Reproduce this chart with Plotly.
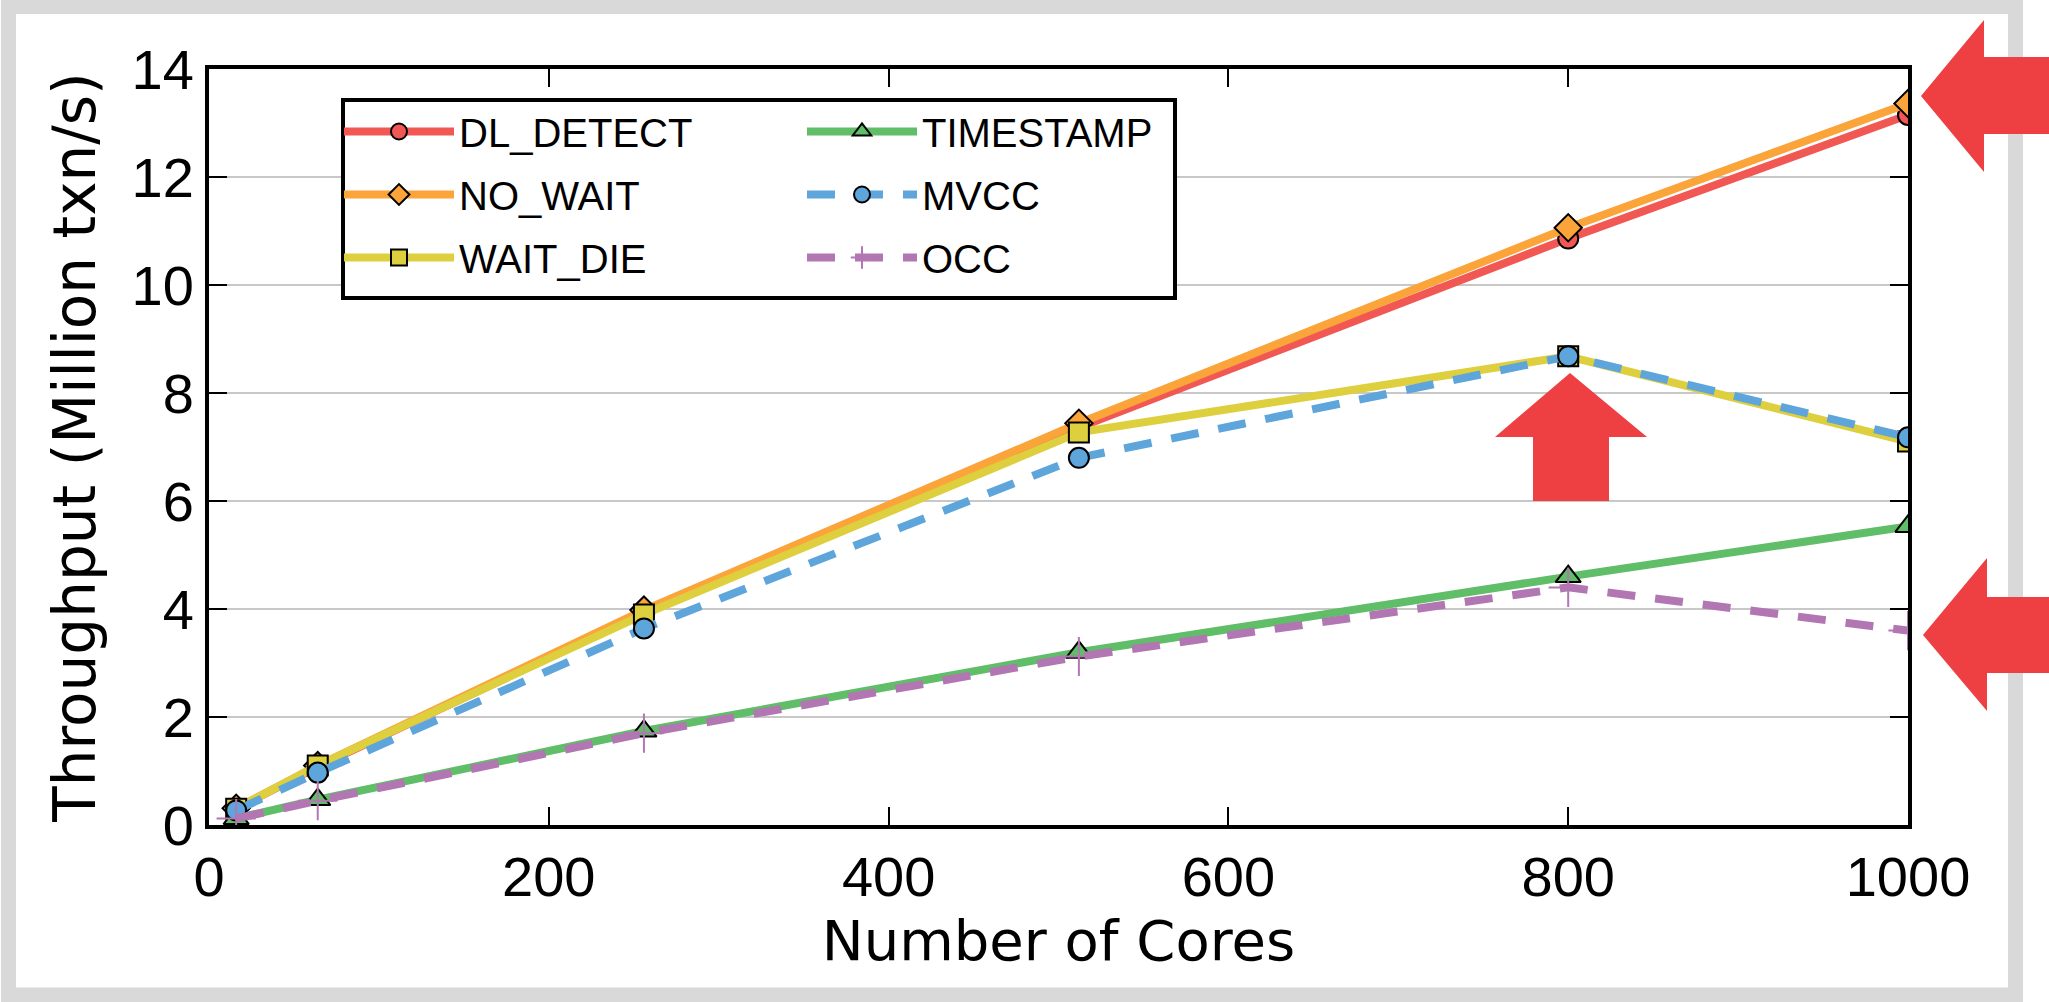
import plotly.graph_objects as go

# ---------------- data ----------------
cores = [16, 64, 256, 512, 800, 1000]
dl_detect = [0.30, 1.08, 3.93, 7.36, 10.86, 13.15]
no_wait = [0.31, 1.10, 3.98, 7.44, 11.06, 13.36]
wait_die = [0.30, 1.10, 3.90, 7.27, 8.68, 7.10]
timestamp = [0.12, 0.47, 1.74, 3.20, 4.60, 5.53]
mvcc = [0.27, 0.97, 3.64, 6.80, 8.68, 7.18]
occ = [0.12, 0.45, 1.70, 3.12, 4.40, 3.60]

x_ticks = [0, 200, 400, 600, 800, 1000]
y_ticks = [0, 2, 4, 6, 8, 10, 12, 14]

series_names = ["DL_DETECT", "NO_WAIT", "WAIT_DIE", "TIMESTAMP", "MVCC", "OCC"]

# ---------------- layout geometry (pixels) ----------------
W, H = 2049, 1002
PL, PR, PT, PB = 209, 1908, 69, 825


def px(x):
    return (x - PL) / (PR - PL)


def py(y):
    return (PB - y) / (PB - PT)


RED = "#F15854"
ORANGE = "#FAA43A"
YELLOW = "#DECF3F"
GREEN = "#60BD68"
BLUE = "#5DA5DA"
PURPLE = "#B276B2"
ARROW = "#EE3F43"

LW = 8
DASH = "28px,20px"

fig = go.Figure()

styles = [
    (dl_detect, RED, "circle", 20, "solid", "legend"),
    (no_wait, ORANGE, "diamond", 21, "solid", "legend"),
    (wait_die, YELLOW, "square", 20, "solid", "legend"),
    (timestamp, GREEN, "triangle-up", 22, "solid", "legend2"),
    (mvcc, BLUE, "circle", 20, DASH, "legend2"),
    (occ, PURPLE, "cross-thin", 28, DASH, "legend2"),
]

for name, (vals, col, sym, size, dash, leg) in zip(series_names, styles):
    if sym == "cross-thin":
        marker = dict(symbol=sym, size=size, color=col, line=dict(color=col, width=2))
    else:
        marker = dict(symbol=sym, size=size, color=col, line=dict(color="black", width=2))
    fig.add_trace(go.Scatter(
        x=cores, y=vals, name=name, mode="lines+markers",
        line=dict(color=col, width=LW, dash=dash),
        marker=marker, legend=leg, legendgroup=name,
    ))

shapes = []
# grey outer frame
shapes.append(dict(type="rect", xref="paper", yref="paper",
                   x0=px(8.5), x1=px(2015.5), y0=py(995), y1=py(6.5),
                   line=dict(color="#D9D9D9", width=15), fillcolor="rgba(0,0,0,0)", layer="below"))
# legend box
shapes.append(dict(type="rect", xref="paper", yref="paper",
                   x0=px(343), x1=px(1175), y0=py(298), y1=py(100),
                   line=dict(color="black", width=4), fillcolor="white", layer="above"))


def poly(points):
    d = "M " + " L ".join(f"{px(a):.5f},{py(b):.5f}" for a, b in points) + " Z"
    return dict(type="path", xref="paper", yref="paper", path=d,
                fillcolor=ARROW, line=dict(width=0), layer="above")


# top-right left-pointing arrow
shapes.append(poly([(1921, 96), (1984, 20), (1984, 57), (2049, 57), (2049, 134), (1984, 134), (1984, 172)]))
# lower-right left-pointing arrow
shapes.append(poly([(1923, 635), (1987, 558), (1987, 597), (2049, 597), (2049, 673), (1987, 673), (1987, 711)]))
# upward arrow inside plot
shapes.append(poly([(1570, 373), (1647, 437), (1609, 437), (1609, 501), (1533, 501), (1533, 437), (1495, 437)]))

tick_font = dict(family="Liberation Sans, Arial, sans-serif", size=56, color="black")
xtitle_font = dict(family="DejaVu Sans, sans-serif", size=56, color="black")
ytitle_font = dict(family="DejaVu Sans, sans-serif", size=58, color="black")
legend_font = dict(family="Liberation Sans, Arial, sans-serif", size=40, color="black")

fig.update_layout(
    width=W, height=H,
    margin=dict(l=PL, r=W - PR, t=PT, b=H - PB, pad=0, autoexpand=False),
    paper_bgcolor="white", plot_bgcolor="white",
    shapes=shapes,
    showlegend=True,
    legend=dict(x=px(339), y=py(99), xanchor="left", yanchor="top",
                bgcolor="rgba(0,0,0,0)", borderwidth=0, font=legend_font,
                itemwidth=110, tracegroupgap=8, orientation="v"),
    legend2=dict(x=px(802), y=py(99), xanchor="left", yanchor="top",
                 bgcolor="rgba(0,0,0,0)", borderwidth=0, font=legend_font,
                 itemwidth=110, tracegroupgap=8, orientation="v"),
    xaxis=dict(range=[0, 1000], tickvals=x_ticks, ticktext=[str(v) for v in x_ticks],
               showgrid=False, zeroline=False, automargin=False,
               showline=True, linecolor="black", linewidth=4, mirror="ticks",
               ticks="inside", ticklen=18, tickwidth=2, tickcolor="black",
               tickfont=tick_font,
               title=dict(text="Number of Cores", font=xtitle_font, standoff=8)),
    yaxis=dict(range=[0, 14], tickvals=y_ticks, ticktext=[str(v) for v in y_ticks],
               showgrid=True, gridcolor="#C8C8C8", gridwidth=2, zeroline=False, automargin=False,
               showline=True, linecolor="black", linewidth=4, mirror="ticks",
               ticks="inside", ticklen=18, tickwidth=2, tickcolor="black",
               tickfont=tick_font,
               title=dict(text="Throughput (Million txn/s)", font=ytitle_font, standoff=18)),
)

fig.write_html("out.html", config={"displayModeBar": False},
               post_script="document.body.style.margin='0px';")
